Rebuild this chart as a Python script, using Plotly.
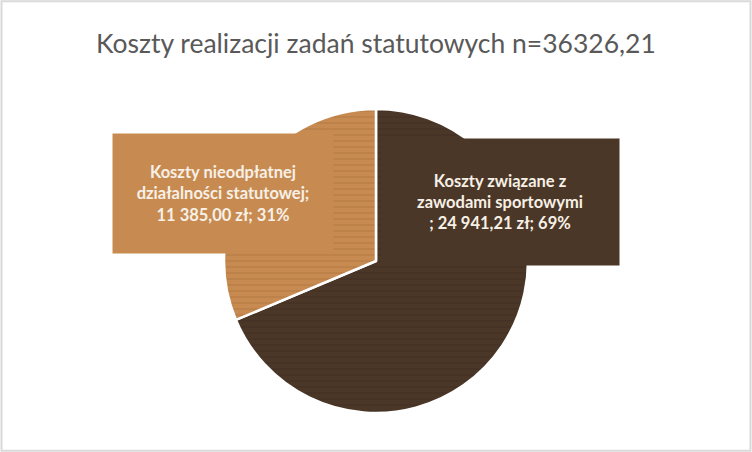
import plotly.graph_objects as go

# data
labels = ["Koszty związane z<br>zawodami sportowymi<br>", "Koszty nieodpłatnej<br>działalności statutowej;<br>"]
values = [24941.21, 11385.00]
colors = ["#4b3727", "#c78b52"]
grain = ["#33251a", "#9c6532"]
total = 36326.21

W, H = 752, 452


def pl_money(v):
    s = f"{v:,.2f}".replace(",", " ").replace(".", ",")
    return s + " zł"


def pct(v):
    return f"{round(v / sum(values) * 100)}%"


# label strings as shown in the chart
texts = [
    labels[0] + "; " + pl_money(values[0]) + "; " + pct(values[0]),
    labels[1] + pl_money(values[1]) + "; " + pct(values[1]),
]

fig = go.Figure(go.Pie(
    values=values,
    labels=["sport", "statut"],
    sort=False,
    direction="clockwise",
    rotation=0,
    textinfo="none",
    hoverinfo="skip",
    marker=dict(
        colors=colors,
        line=dict(color="white", width=2.5),
        pattern=dict(shape="-", bgcolor=colors, fgcolor=grain, fgopacity=0.4,
                     size=6, solidity=0.2, fillmode="replace"),
    ),
    domain=dict(x=[(376 - 152) / W, (376 + 152) / W], y=[(H - 415) / H, (H - 107) / H]),
    showlegend=False,
))

# label boxes (right: dark slice, left: light slice)
boxes = [
    dict(cx=500, cy=202, w=238, h=126, bg=colors[0], text=texts[0]),
    dict(cx=223, cy=193, w=220, h=119, bg=colors[1], text=texts[1]),
]
for b in boxes:
    fig.add_annotation(
        x=b["cx"] / W, y=1 - b["cy"] / H, xref="paper", yref="paper",
        xanchor="center", yanchor="middle",
        text=b["text"], showarrow=False,
        width=b["w"], height=b["h"], bgcolor=b["bg"], borderpad=0,
        font=dict(family="Lato", size=16.5, color="#f7f0e6", weight="bold"),
        align="center", valign="middle",
    )

fig.add_annotation(
    x=0.5, y=1 - 43 / H, xref="paper", yref="paper",
    xanchor="center", yanchor="middle", showarrow=False,
    text=f"Koszty realizacji zadań statutowych n={str(total).replace('.', ',')}",
    font=dict(family="Lato", size=26.5, color="#595959"),
)

# outer chart frame
fig.add_shape(type="rect", xref="paper", yref="paper", x0=0.002, y0=0.003, x1=0.998, y1=0.997,
              line=dict(color="#d9d9d9", width=2))

fig.update_layout(
    width=W, height=H,
    margin=dict(l=0, r=0, t=0, b=0),
    paper_bgcolor="white",
    plot_bgcolor="white",
)

fig.write_html("out.html", config={"displayModeBar": False},
               post_script="document.body.style.margin='0';")
